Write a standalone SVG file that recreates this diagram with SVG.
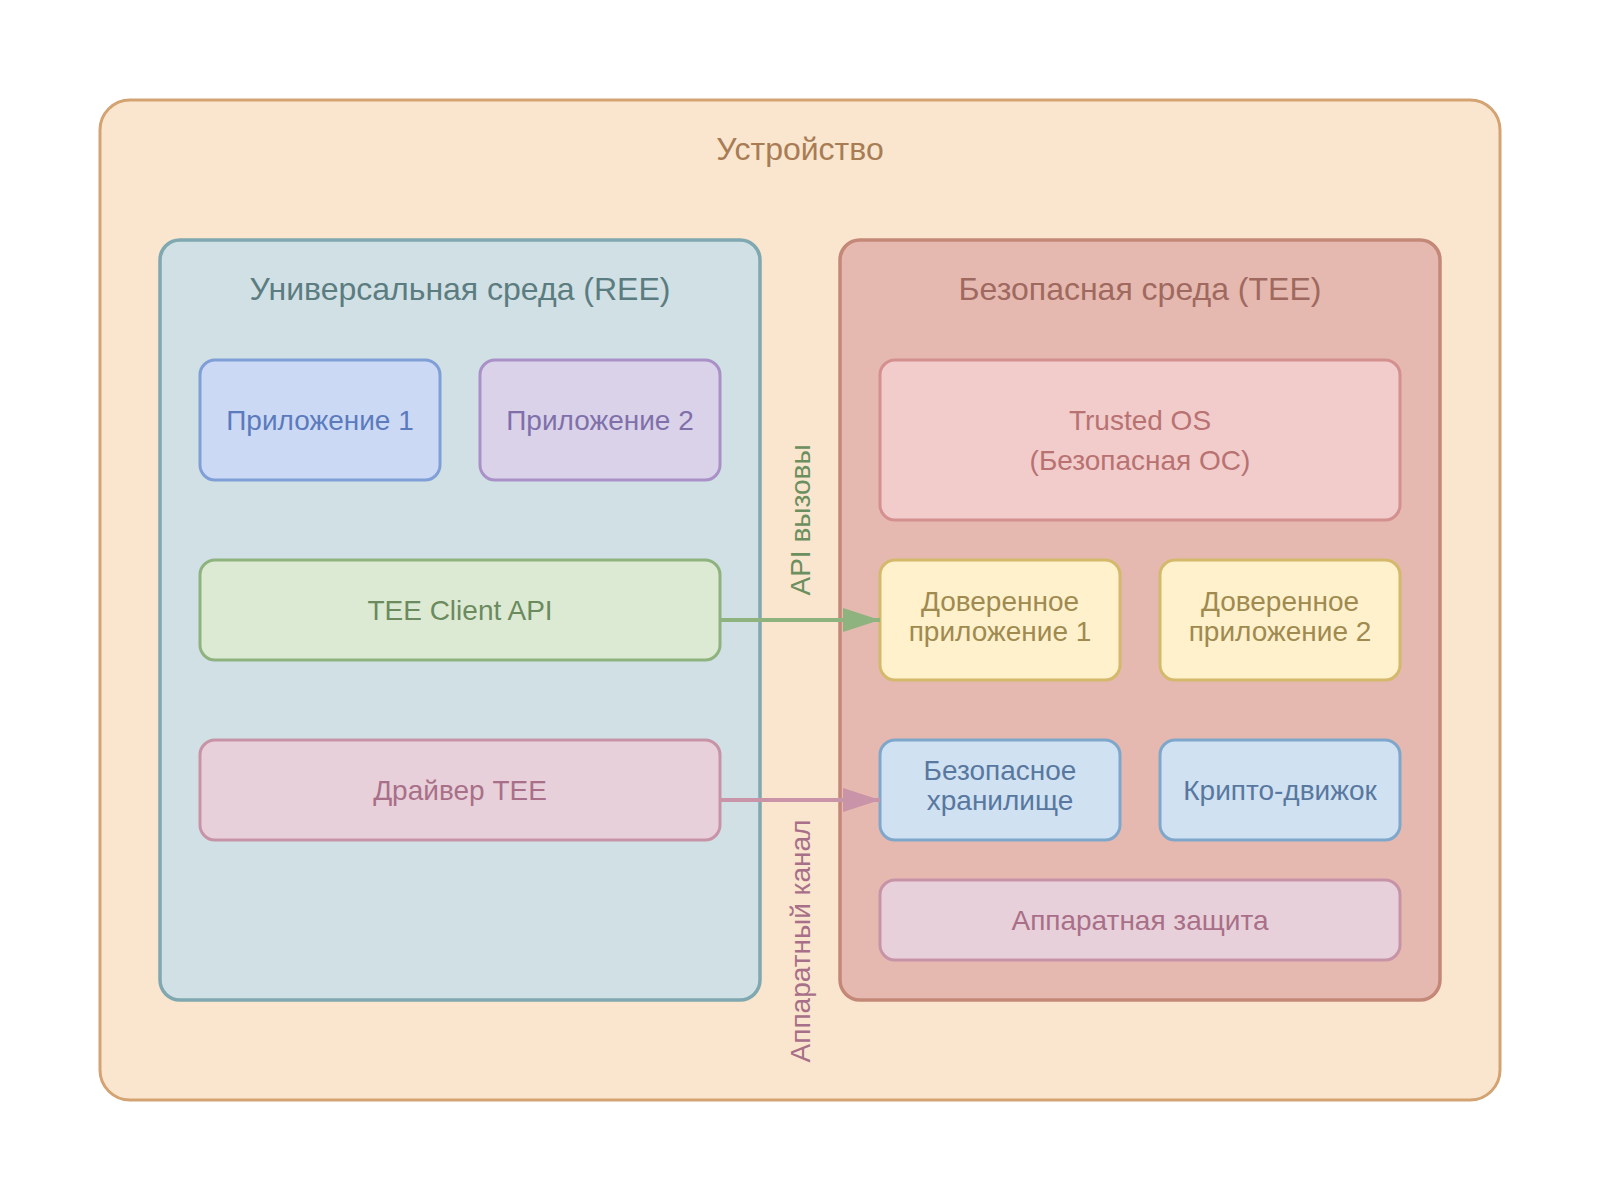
<svg xmlns="http://www.w3.org/2000/svg" width="1600" height="1200" viewBox="0 0 1600 1200">
<defs>
<style>
text{font-family:"Liberation Sans",Arial,sans-serif;text-anchor:middle}
.t{font-size:32px}
.n{font-size:28px}
.node rect{stroke-width:3}
</style>
<marker id="ag" viewBox="0 0 37 24" refX="37" refY="12" markerUnits="userSpaceOnUse" markerWidth="37" markerHeight="24" orient="auto"><path d="M0,0 L37,12 L0,24 z" fill="#8FB37F"/></marker>
<marker id="ap" viewBox="0 0 37 24" refX="37" refY="12" markerUnits="userSpaceOnUse" markerWidth="37" markerHeight="24" orient="auto"><path d="M0,0 L37,12 L0,24 z" fill="#C993A8"/></marker>
</defs>
<rect width="1600" height="1200" fill="#ffffff"/>
<g id="device">
<rect x="100" y="100" width="1400" height="1000" rx="30" fill="#FAE6CF" stroke="#D4A373" stroke-width="3"/>
<text class="t" x="800" y="160" fill="#A87C55">Устройство</text>
</g>
<g id="ree">
<rect x="160" y="240" width="600" height="760" rx="20" fill="#D1E0E4" stroke="#7FA8B0" stroke-width="3.5"/>
<text class="t" x="460" y="300" fill="#5B7C80">Универсальная среда (REE)</text>
</g>
<g id="tee">
<rect x="840" y="240" width="600" height="760" rx="20" fill="#E5B9B0" stroke="#C48878" stroke-width="3.5"/>
<text class="t" x="1140" y="300" fill="#A0695F">Безопасная среда (TEE)</text>
</g>
<g id="app1" class="node">
<rect x="200" y="360" width="240" height="120" rx="15" fill="#CCD9F5" stroke="#7F9FD6"/>
<text class="n" x="320" y="430" fill="#5B7BBD">Приложение 1</text>
</g>
<g id="app2" class="node">
<rect x="480" y="360" width="240" height="120" rx="15" fill="#DAD2E9" stroke="#A991C8"/>
<text class="n" x="600" y="430" fill="#8070AA">Приложение 2</text>
</g>
<g id="client-api" class="node">
<rect x="200" y="560" width="520" height="100" rx="15" fill="#DCEAD3" stroke="#8FB37F"/>
<text class="n" x="460" y="620" fill="#6B8A5E">TEE Client API</text>
</g>
<g id="driver" class="node">
<rect x="200" y="740" width="520" height="100" rx="15" fill="#E8D0DA" stroke="#C793A7"/>
<text class="n" x="460" y="800" fill="#A87088">Драйвер TEE</text>
</g>
<g id="trusted-os" class="node">
<rect x="880" y="360" width="520" height="160" rx="15" fill="#F1CCCB" stroke="#D4908F"/>
<text class="n" x="1140" y="430" fill="#B87272">Trusted OS</text>
<text class="n" x="1140" y="470" fill="#B87272">(Безопасная ОС)</text>
</g>
<g id="ta1" class="node">
<rect x="880" y="560" width="240" height="120" rx="15" fill="#FEF1CC" stroke="#D4B96A"/>
<text class="n" x="1000" y="611" fill="#A08A50">Доверенное</text>
<text class="n" x="1000" y="641" fill="#A08A50">приложение 1</text>
</g>
<g id="ta2" class="node">
<rect x="1160" y="560" width="240" height="120" rx="15" fill="#FEF1CC" stroke="#D4B96A"/>
<text class="n" x="1280" y="611" fill="#A08A50">Доверенное</text>
<text class="n" x="1280" y="641" fill="#A08A50">приложение 2</text>
</g>
<g id="storage" class="node">
<rect x="880" y="740" width="240" height="100" rx="15" fill="#D0E1F1" stroke="#7EA7CB"/>
<text class="n" x="1000" y="780" fill="#5878A0">Безопасное</text>
<text class="n" x="1000" y="810" fill="#5878A0">хранилище</text>
</g>
<g id="crypto" class="node">
<rect x="1160" y="740" width="240" height="100" rx="15" fill="#D0E1F1" stroke="#7EA7CB"/>
<text class="n" x="1280" y="800" fill="#5878A0">Крипто-движок</text>
</g>
<g id="hw" class="node">
<rect x="880" y="880" width="520" height="80" rx="15" fill="#E8D0DA" stroke="#C793A7"/>
<text class="n" x="1140" y="930" fill="#A87088">Аппаратная защита</text>
</g>
<g id="connectors">
<line x1="720" y1="620" x2="880" y2="620" stroke="#8FB37F" stroke-width="4" marker-end="url(#ag)"/>
<line x1="720" y1="800" x2="880" y2="800" stroke="#C993A8" stroke-width="4" marker-end="url(#ap)"/>
<text class="n" transform="translate(810,520) rotate(-90)" fill="#6B8F5E">API вызовы</text>
<text class="n" transform="translate(810,941) rotate(-90)" fill="#A87088">Аппаратный канал</text>
</g>
</svg>
